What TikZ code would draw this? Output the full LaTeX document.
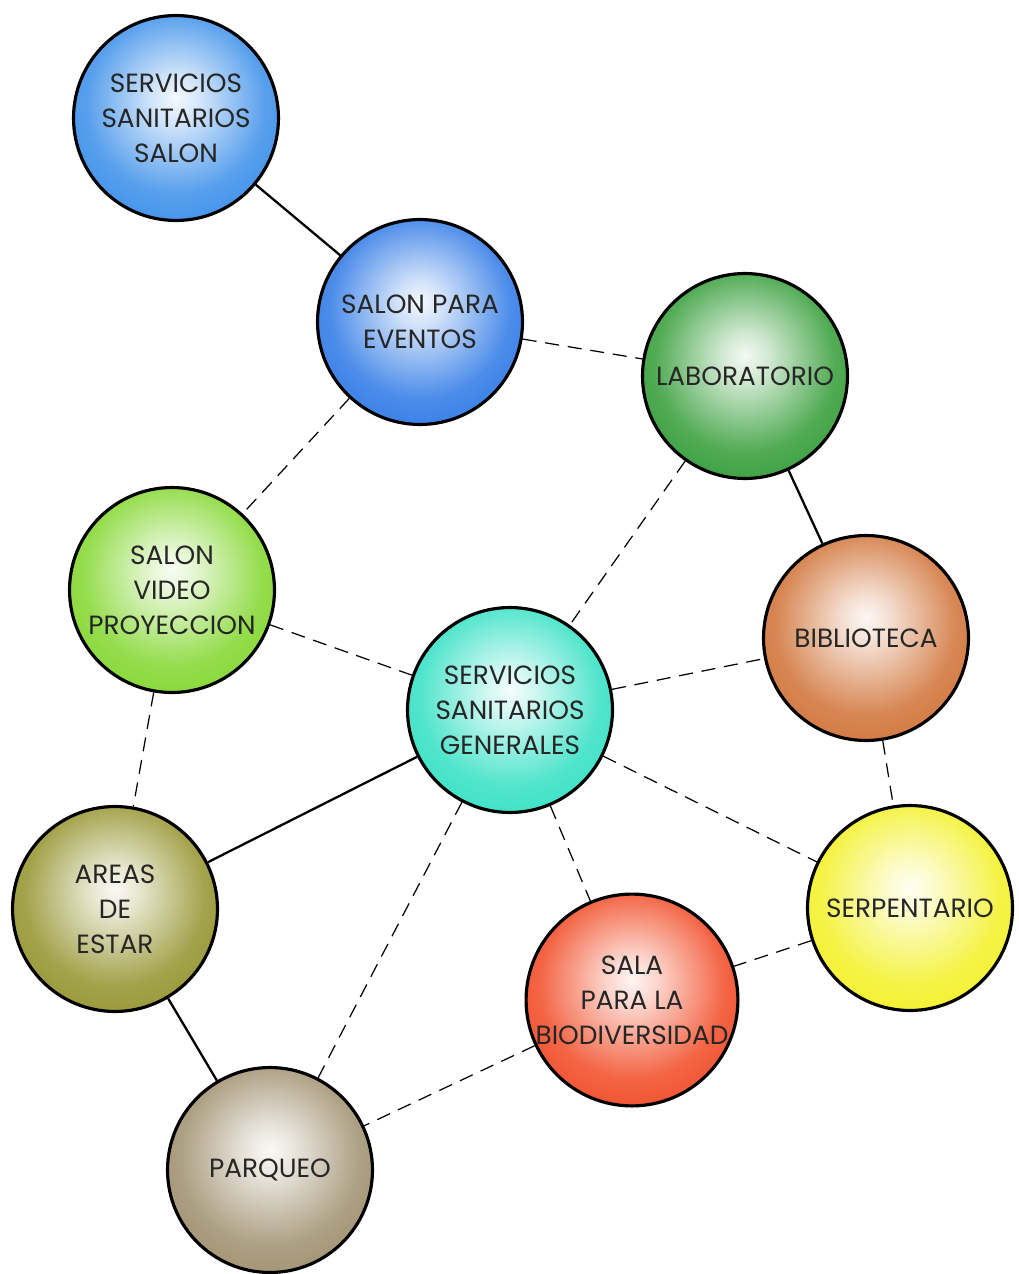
\documentclass[tikz,border=0pt]{standalone}
\usepackage{fontspec}
\setmainfont{Poppins}
\colorlet{bubcol}{white}
\pgfdeclareradialshading[bubcol]{bubble}{\pgfpoint{0bp}{5bp}}{%
  color(0bp)=(bubcol!5); color(6bp)=(bubcol!22); color(22bp)=(bubcol!80);
  color(38bp)=(bubcol); color(70bp)=(bubcol)}
\definecolor{cSalon}{RGB}{45,135,232}
\definecolor{cEventos}{RGB}{32,112,228}
\definecolor{cLab}{RGB}{38,150,42}
\definecolor{cVideo}{RGB}{122,212,32}
\definecolor{cSanGen}{RGB}{38,222,192}
\definecolor{cBiblio}{RGB}{205,105,42}
\definecolor{cAreas}{RGB}{140,140,32}
\definecolor{cSerp}{RGB}{242,240,24}
\definecolor{cBiodiv}{RGB}{240,62,22}
\definecolor{cParqueo}{RGB}{152,136,100}
\begin{document}
\begin{tikzpicture}[x=0.02cm,y=-0.02cm,
  bub/.style={circle,draw=black,line width=1.8pt,minimum size=4.1cm,
    inner sep=0pt,align=center,text=black!85,
    font=\fontsize{15}{20}\selectfont,
    /utils/exec={\colorlet{bubcol}{#1}},shade,shading=bubble},
  fixed/.style={line width=1.3pt},
  loose/.style={line width=0.7pt,dash pattern=on 8pt off 5pt}]
  \useasboundingbox (0,0) rectangle (1018,1274);

  \node[bub=cSalon] (salon) at (176,118) {SERVICIOS\\SANITARIOS\\SALON};
  \node[bub=cEventos] (eventos) at (420,322) {SALON PARA\\EVENTOS};
  \node[bub=cLab] (lab) at (745,376) {LABORATORIO};
  \node[bub=cVideo] (video) at (172,590) {SALON\\VIDEO\\PROYECCION};
  \node[bub=cSanGen] (sangen) at (510,710) {SERVICIOS\\SANITARIOS\\GENERALES};
  \node[bub=cBiblio] (biblio) at (866,638) {BIBLIOTECA};
  \node[bub=cAreas] (areas) at (115,909) {AREAS\\DE\\ESTAR};
  \node[bub=cSerp] (serp) at (910,908) {SERPENTARIO};
  \node[bub=cBiodiv] (biodiv) at (632,1000) {SALA\\PARA LA\\BIODIVERSIDAD};
  \node[bub=cParqueo] (parqueo) at (270,1170) {PARQUEO};

  \path
    (salon) edge[fixed] (eventos)
    (lab) edge[fixed] (biblio)
    (sangen) edge[fixed] (areas)
    (areas) edge[fixed] (parqueo);
  \path
    (eventos) edge[loose] (lab)
    (eventos) edge[loose] (video)
    (lab) edge[loose] (sangen)
    (video) edge[loose] (sangen)
    (video) edge[loose] (areas)
    (sangen) edge[loose] (biblio)
    (sangen) edge[loose] (serp)
    (sangen) edge[loose] (biodiv)
    (sangen) edge[loose] (parqueo)
    (biblio) edge[loose] (serp)
    (serp) edge[loose] (biodiv)
    (biodiv) edge[loose] (parqueo);
\end{tikzpicture}
\end{document}
